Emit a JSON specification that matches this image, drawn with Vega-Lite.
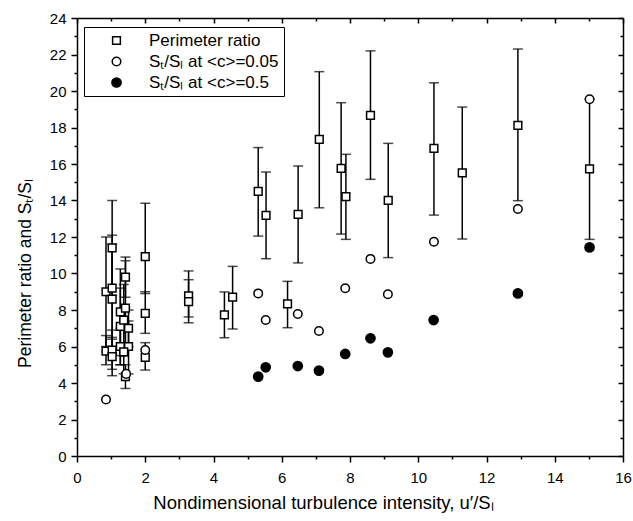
{
  "$schema": "https://vega.github.io/schema/vega-lite/v6.json",
  "width": 546,
  "height": 438,
  "autosize": {"type": "none"},
  "padding": {"left": 77, "top": 18, "right": 10, "bottom": 65},
  "config": {
    "view": {"stroke": null},
    "font": "Liberation Sans",
    "axis": {
      "grid": false,
      "domainColor": "black",
      "domainWidth": 1.5,
      "tickColor": "black",
      "tickWidth": 1.5,
      "labelColor": "black",
      "labelFont": "Liberation Sans",
      "labelFontSize": 15,
      "labelFlush": false,
      "labelOverlap": false,
      "titleFont": "Liberation Sans",
      "titleFontSize": 17.5,
      "titleFontWeight": "normal",
      "titleColor": "black"
    },
    "legend": {
      "labelFont": "Liberation Sans",
      "labelFontSize": 17,
      "labelColor": "black",
      "title": null,
      "orient": "none",
      "legendX": 7,
      "legendY": 9,
      "strokeColor": "black",
      "fillColor": "white",
      "padding": 5,
      "symbolOffset": 19,
      "labelOffset": 24,
      "rowPadding": 3
    }
  },
  "datasets": {
    "sq": [
      {"x": 0.85, "y": 9.0, "lo": 6.0, "hi": 12.0},
      {"x": 0.85, "y": 5.75, "lo": 5.0, "hi": 6.6},
      {"x": 1.03, "y": 11.4, "lo": 8.8, "hi": 14.0},
      {"x": 1.03, "y": 9.2, "lo": 6.4, "hi": 12.1},
      {"x": 1.03, "y": 8.6, "lo": 5.6, "hi": 11.6},
      {"x": 1.03, "y": 5.8, "lo": 4.75, "hi": 6.9},
      {"x": 1.03, "y": 5.45, "lo": 4.4, "hi": 6.5},
      {"x": 1.27, "y": 7.9, "lo": 5.5, "hi": 10.25},
      {"x": 1.27, "y": 7.1, "lo": 5.0, "hi": 9.2},
      {"x": 1.27, "y": 6.0, "lo": 5.0, "hi": 7.0},
      {"x": 1.42, "y": 9.8, "lo": 8.7, "hi": 10.9},
      {"x": 1.42, "y": 8.1, "lo": 6.0, "hi": 10.7},
      {"x": 1.37, "y": 7.45, "lo": 5.5, "hi": 9.4},
      {"x": 1.51, "y": 7.0, "lo": 6.0, "hi": 8.0},
      {"x": 1.51, "y": 6.0, "lo": 4.5, "hi": 7.4},
      {"x": 1.42, "y": 4.35, "lo": 3.7, "hi": 5.0},
      {"x": 1.37, "y": 5.7, "lo": 4.5, "hi": 6.9},
      {"x": 2.0, "y": 10.92, "lo": 8.9, "hi": 13.85},
      {"x": 2.0, "y": 7.82, "lo": 6.72, "hi": 9.0},
      {"x": 2.0, "y": 5.4, "lo": 4.71, "hi": 6.21},
      {"x": 3.27, "y": 8.77, "lo": 7.62, "hi": 10.14},
      {"x": 3.27, "y": 8.46, "lo": 7.3, "hi": 9.66},
      {"x": 4.32, "y": 7.73, "lo": 6.48, "hi": 8.99},
      {"x": 4.56, "y": 8.7, "lo": 6.96, "hi": 10.39},
      {"x": 5.31, "y": 14.5, "lo": 12.05, "hi": 16.9},
      {"x": 5.54, "y": 13.19, "lo": 10.81, "hi": 15.56},
      {"x": 6.17, "y": 8.33, "lo": 7.03, "hi": 9.57},
      {"x": 6.48, "y": 13.24, "lo": 10.58, "hi": 15.89},
      {"x": 7.1, "y": 17.35, "lo": 13.6, "hi": 21.06},
      {"x": 7.74, "y": 15.76, "lo": 12.16, "hi": 19.36},
      {"x": 7.88, "y": 14.21, "lo": 11.87, "hi": 16.53},
      {"x": 8.6, "y": 18.67, "lo": 15.16, "hi": 22.2},
      {"x": 9.12, "y": 14.01, "lo": 10.87, "hi": 17.13},
      {"x": 10.46, "y": 16.86, "lo": 13.2, "hi": 20.45},
      {"x": 11.29, "y": 15.51, "lo": 11.89, "hi": 19.12},
      {"x": 12.92, "y": 18.12, "lo": 13.99, "hi": 22.3},
      {"x": 15.02, "y": 15.73, "lo": 11.87, "hi": 19.55}
    ],
    "pts": [
      {"x": 0.85, "y": 9.0, "series": "Perimeter ratio"},
      {"x": 0.85, "y": 5.75, "series": "Perimeter ratio"},
      {"x": 1.03, "y": 11.4, "series": "Perimeter ratio"},
      {"x": 1.03, "y": 9.2, "series": "Perimeter ratio"},
      {"x": 1.03, "y": 8.6, "series": "Perimeter ratio"},
      {"x": 1.03, "y": 5.8, "series": "Perimeter ratio"},
      {"x": 1.03, "y": 5.45, "series": "Perimeter ratio"},
      {"x": 1.27, "y": 7.9, "series": "Perimeter ratio"},
      {"x": 1.27, "y": 7.1, "series": "Perimeter ratio"},
      {"x": 1.27, "y": 6.0, "series": "Perimeter ratio"},
      {"x": 1.42, "y": 9.8, "series": "Perimeter ratio"},
      {"x": 1.42, "y": 8.1, "series": "Perimeter ratio"},
      {"x": 1.37, "y": 7.45, "series": "Perimeter ratio"},
      {"x": 1.51, "y": 7.0, "series": "Perimeter ratio"},
      {"x": 1.51, "y": 6.0, "series": "Perimeter ratio"},
      {"x": 1.42, "y": 4.35, "series": "Perimeter ratio"},
      {"x": 1.37, "y": 5.7, "series": "Perimeter ratio"},
      {"x": 2.0, "y": 10.92, "series": "Perimeter ratio"},
      {"x": 2.0, "y": 7.82, "series": "Perimeter ratio"},
      {"x": 2.0, "y": 5.4, "series": "Perimeter ratio"},
      {"x": 3.27, "y": 8.77, "series": "Perimeter ratio"},
      {"x": 3.27, "y": 8.46, "series": "Perimeter ratio"},
      {"x": 4.32, "y": 7.73, "series": "Perimeter ratio"},
      {"x": 4.56, "y": 8.7, "series": "Perimeter ratio"},
      {"x": 5.31, "y": 14.5, "series": "Perimeter ratio"},
      {"x": 5.54, "y": 13.19, "series": "Perimeter ratio"},
      {"x": 6.17, "y": 8.33, "series": "Perimeter ratio"},
      {"x": 6.48, "y": 13.24, "series": "Perimeter ratio"},
      {"x": 7.1, "y": 17.35, "series": "Perimeter ratio"},
      {"x": 7.74, "y": 15.76, "series": "Perimeter ratio"},
      {"x": 7.88, "y": 14.21, "series": "Perimeter ratio"},
      {"x": 8.6, "y": 18.67, "series": "Perimeter ratio"},
      {"x": 9.12, "y": 14.01, "series": "Perimeter ratio"},
      {"x": 10.46, "y": 16.86, "series": "Perimeter ratio"},
      {"x": 11.29, "y": 15.51, "series": "Perimeter ratio"},
      {"x": 12.92, "y": 18.12, "series": "Perimeter ratio"},
      {"x": 15.02, "y": 15.73, "series": "Perimeter ratio"},
      {"x": 0.85, "y": 3.1, "series": "Sₜ/Sₗ at <c>=0.05"},
      {"x": 1.44, "y": 4.5, "series": "Sₜ/Sₗ at <c>=0.05"},
      {"x": 2.0, "y": 5.81, "series": "Sₜ/Sₗ at <c>=0.05"},
      {"x": 5.31, "y": 8.91, "series": "Sₜ/Sₗ at <c>=0.05"},
      {"x": 5.53, "y": 7.45, "series": "Sₜ/Sₗ at <c>=0.05"},
      {"x": 6.47, "y": 7.78, "series": "Sₜ/Sₗ at <c>=0.05"},
      {"x": 7.09, "y": 6.85, "series": "Sₜ/Sₗ at <c>=0.05"},
      {"x": 7.86, "y": 9.19, "series": "Sₜ/Sₗ at <c>=0.05"},
      {"x": 8.6, "y": 10.8, "series": "Sₜ/Sₗ at <c>=0.05"},
      {"x": 9.11, "y": 8.86, "series": "Sₜ/Sₗ at <c>=0.05"},
      {"x": 10.46, "y": 11.74, "series": "Sₜ/Sₗ at <c>=0.05"},
      {"x": 12.92, "y": 13.53, "series": "Sₜ/Sₗ at <c>=0.05"},
      {"x": 15.02, "y": 19.55, "series": "Sₜ/Sₗ at <c>=0.05"},
      {"x": 5.31, "y": 4.35, "series": "Sₜ/Sₗ at <c>=0.5"},
      {"x": 5.53, "y": 4.86, "series": "Sₜ/Sₗ at <c>=0.5"},
      {"x": 6.47, "y": 4.93, "series": "Sₜ/Sₗ at <c>=0.5"},
      {"x": 7.09, "y": 4.68, "series": "Sₜ/Sₗ at <c>=0.5"},
      {"x": 7.86, "y": 5.59, "series": "Sₜ/Sₗ at <c>=0.5"},
      {"x": 8.6, "y": 6.45, "series": "Sₜ/Sₗ at <c>=0.5"},
      {"x": 9.11, "y": 5.68, "series": "Sₜ/Sₗ at <c>=0.5"},
      {"x": 10.45, "y": 7.45, "series": "Sₜ/Sₗ at <c>=0.5"},
      {"x": 12.92, "y": 8.91, "series": "Sₜ/Sₗ at <c>=0.5"},
      {"x": 15.02, "y": 11.43, "series": "Sₜ/Sₗ at <c>=0.5"}
    ]
  },
  "layer": [
    {
      "data": {"name": "sq"},
      "mark": {"type": "rule", "strokeWidth": 1.5, "color": "black"},
      "encoding": {
        "x": {
          "field": "x", "type": "quantitative",
          "scale": {"domain": [0, 16], "nice": false, "zero": false},
          "axis": {
            "orient": "bottom",
            "values": [0,1,2,3,4,5,6,7,8,9,10,11,12,13,14,15,16],
            "labelExpr": "datum.value % 2 == 0 ? datum.label : ''",
            "tickSize": {"condition": {"test": "datum.value % 2 == 0", "value": 6}, "value": 3},
            "labelPadding": 8,
            "title": "Nondimensional turbulence intensity,  u′/Sₗ",
            "titleFontSize": 18.5,
            "titleX": 246,
            "titleY": 52,
            "titleBaseline": "alphabetic",
            "titleAlign": "center"
          }
        },
        "y": {
          "field": "lo", "type": "quantitative",
          "scale": {"domain": [0, 24], "nice": false, "zero": false},
          "axis": {
            "orient": "left",
            "values": [0,1,2,3,4,5,6,7,8,9,10,11,12,13,14,15,16,17,18,19,20,21,22,23,24],
            "labelExpr": "datum.value % 2 == 0 ? datum.label : ''",
            "tickSize": {"condition": {"test": "datum.value % 2 == 0", "value": 6}, "value": 3},
            "labelPadding": 5,
            "title": "Perimeter ratio and  Sₜ/Sₗ",
            "titleX": -47,
            "titleY": 255,
            "titleBaseline": "alphabetic",
            "titleAlign": "center",
            "titleAngle": 270
          }
        },
        "y2": {"field": "hi"}
      }
    },
    {
      "data": {"name": "sq"},
      "mark": {"type": "tick", "orient": "horizontal", "size": 10, "thickness": 1.5, "color": "black"},
      "encoding": {
        "x": {
          "field": "x", "type": "quantitative",
          "axis": {
            "orient": "top",
            "values": [0,1,2,3,4,5,6,7,8,9,10,11,12,13,14,15,16],
            "labels": false,
            "tickSize": {"condition": {"test": "datum.value % 2 == 0", "value": -5}, "value": -3},
            "title": null
          }
        },
        "y": {
          "field": "lo", "type": "quantitative",
          "axis": {
            "orient": "right",
            "values": [0,1,2,3,4,5,6,7,8,9,10,11,12,13,14,15,16,17,18,19,20,21,22,23,24],
            "labels": false,
            "tickSize": {"condition": {"test": "datum.value % 2 == 0", "value": -5}, "value": -3},
            "title": null
          }
        }
      }
    },
    {
      "data": {"name": "sq"},
      "mark": {"type": "tick", "orient": "horizontal", "size": 10, "thickness": 1.5, "color": "black"},
      "encoding": {
        "x": {"field": "x", "type": "quantitative", "axis": null},
        "y": {"field": "hi", "type": "quantitative", "axis": null}
      }
    },
    {
      "data": {"name": "pts"},
      "mark": {"type": "point", "filled": true, "stroke": "black", "strokeWidth": 1.5, "opacity": 1},
      "encoding": {
        "x": {"field": "x", "type": "quantitative", "axis": null},
        "y": {"field": "y", "type": "quantitative", "axis": null},
        "shape": {
          "field": "series", "type": "nominal",
          "scale": {"domain": ["Perimeter ratio", "Sₜ/Sₗ at <c>=0.05", "Sₜ/Sₗ at <c>=0.5"], "range": ["square", "circle", "circle"]},
          "legend": {
            "encode": {"symbols": {"update": {"stroke": {"value": "black"}, "strokeWidth": {"value": 1.5}, "opacity": {"value": 1}}}}
          }
        },
        "fill": {
          "field": "series", "type": "nominal",
          "scale": {"domain": ["Perimeter ratio", "Sₜ/Sₗ at <c>=0.05", "Sₜ/Sₗ at <c>=0.5"], "range": ["white", "white", "black"]},
          "legend": {
            "encode": {"symbols": {"update": {"stroke": {"value": "black"}, "strokeWidth": {"value": 1.5}, "opacity": {"value": 1}}}}
          }
        },
        "size": {
          "field": "series", "type": "nominal",
          "scale": {"domain": ["Perimeter ratio", "Sₜ/Sₗ at <c>=0.05", "Sₜ/Sₗ at <c>=0.5"], "range": [60, 85, 100]},
          "legend": {
            "encode": {"symbols": {"update": {"stroke": {"value": "black"}, "strokeWidth": {"value": 1.5}, "opacity": {"value": 1}}}}
          }
        }
      }
    }
  ],
  "resolve": {"axis": {"x": "independent", "y": "independent"}}
}
